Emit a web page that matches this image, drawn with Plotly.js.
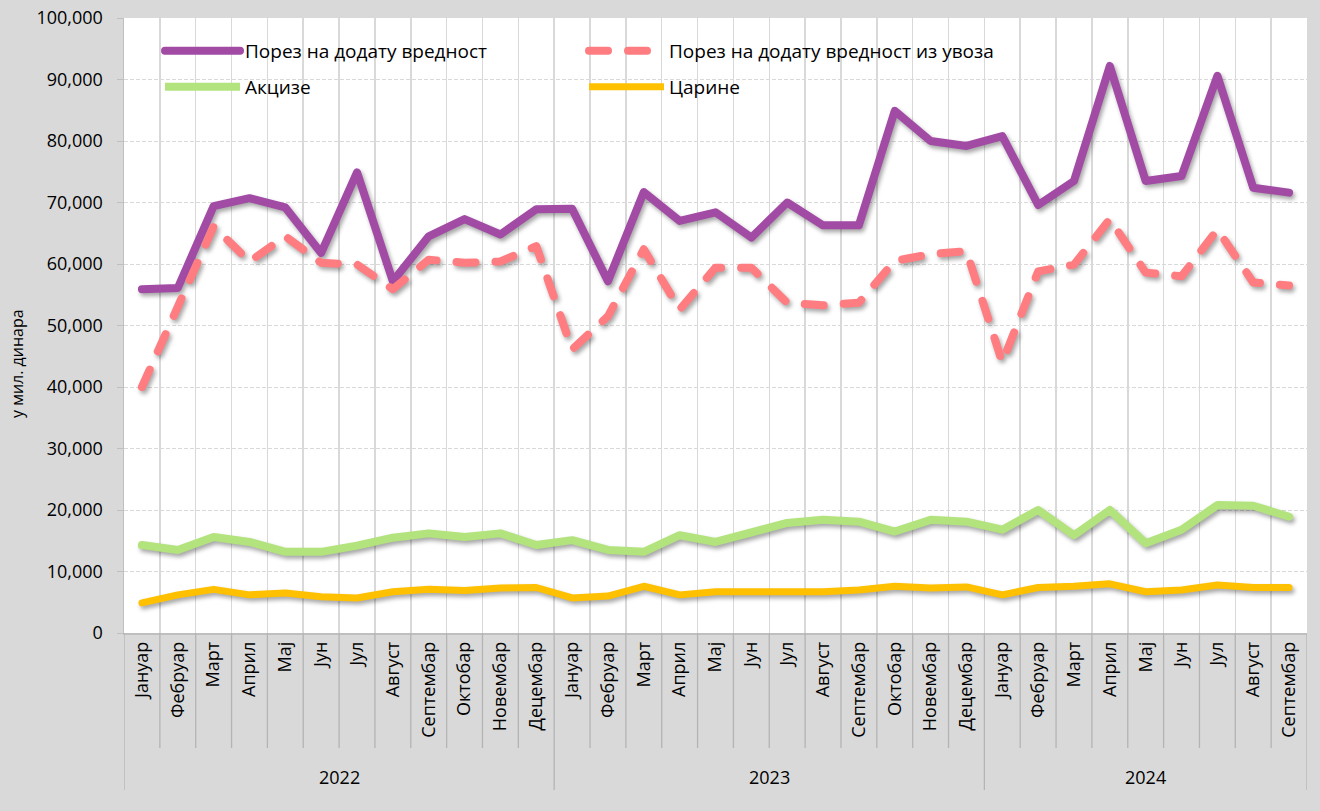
<!DOCTYPE html>
<html>
<head>
<meta charset="utf-8">
<script src="https://cdn.plot.ly/plotly-3.0.1.min.js"></script>
<style>
html, body { margin: 0; padding: 0; background: #d9d9d9; }
#chart { width: 1320px; height: 811px; }
.scatterlayer path.js-line { stroke-linecap: round; stroke-linejoin: round; filter: drop-shadow(2px 3px 2px rgba(0,0,0,0.35)); }
.legend path.js-line { stroke-linecap: round; }
</style>
</head>
<body>
<div id="chart"></div>
<script>
// ---- data ----
const months = [
  'Јануар','Фебруар','Март','Април','Мај','Јун','Јул','Август','Септембар','Октобар','Новембар','Децембар',
  'Јануар','Фебруар','Март','Април','Мај','Јун','Јул','Август','Септембар','Октобар','Новембар','Децембар',
  'Јануар','Фебруар','Март','Април','Мај','Јун','Јул','Август','Септембар'
];
const periodYears = [
  '2022','2022','2022','2022','2022','2022','2022','2022','2022','2022','2022','2022',
  '2023','2023','2023','2023','2023','2023','2023','2023','2023','2023','2023','2023',
  '2024','2024','2024','2024','2024','2024','2024','2024','2024'
];
const vat = [
  55900, 56100, 69400, 70700, 69200, 61800, 74900, 57200, 64500, 67300, 64800, 68900,
  69000, 57200, 71700, 67000, 68400, 64300, 70000, 66300, 66300, 84900, 80000, 79200,
  80800, 69600, 73500, 92200, 73500, 74300, 90600, 72400, 71600
];
const vatImport = [
  40000, 53000, 66100, 60400, 64500, 60200, 59900, 55900, 60700, 60200, 60400, 62900,
  46100, 51500, 62400, 52600, 59400, 59400, 53700, 53300, 53700, 60500, 61600, 62100,
  44000, 58800, 59900, 67300, 58600, 58000, 65600, 57000, 56500
];
const excise = [
  14300, 13500, 15600, 14800, 13200, 13200, 14200, 15500, 16200, 15600, 16200, 14300,
  15100, 13500, 13200, 15900, 14800, 16200, 17900, 18400, 18100, 16500, 18400, 18100,
  16800, 20000, 15900, 20000, 14600, 16800, 20800, 20700, 18900
];
const customs = [
  4900, 6200, 7100, 6200, 6500, 5900, 5700, 6700, 7100, 6900, 7300, 7400,
  5700, 6000, 7600, 6200, 6700, 6700, 6500, 6700, 7000, 7600, 7300, 7500,
  6200, 7400, 7600, 8000, 6700, 7000, 7800, 7400, 7400
];
const seriesNames = ['Порез на додату вредност', 'Порез на додату вредност из увоза', 'Акцизе', 'Царине'];
const yTitle = 'у мил. динара';

// ---- derived ----
const x = months.map((m, i) => i);
const n = months.length;
const boundaries = [];
for (let k = 1; k < n; k++) boundaries.push(k - 0.5);

const traces = [
  {x: x, y: vat, name: seriesNames[0], mode: 'lines', line: {color: '#a24ba5', width: 8}, legend: 'legend'},
  {x: x, y: vatImport, name: seriesNames[1], mode: 'lines', line: {color: '#ff7c80', width: 8, dash: '19px,20px'}, legend: 'legend'},
  {x: x, y: excise, name: seriesNames[2], mode: 'lines', line: {color: '#b2e37c', width: 8}, legend: 'legend2'},
  {x: x, y: customs, name: seriesNames[3], mode: 'lines', line: {color: '#ffc000', width: 7}, legend: 'legend2'}
];

// separators below the axis and year labels
const shapes = [];
const annotations = [];
const plotH = 811 - 18 - 178;
const monthSepY = -(748 - 633) / plotH;
const yearSepY = -(790 - 633) / plotH;
for (let k = 0; k <= n; k++) {
  const isYearEdge = (k === 0 || k === n || periodYears[k] !== periodYears[k - 1]);
  shapes.push({
    type: 'line', xref: 'x', yref: 'paper',
    x0: k - 0.5, x1: k - 0.5, y0: 0, y1: isYearEdge ? yearSepY : monthSepY,
    line: {color: '#b4b4b4', width: 1.3}
  });
}
const uniqYears = [...new Set(periodYears)];
uniqYears.forEach(yr => {
  const idx = x.filter(i => periodYears[i] === yr);
  const c = (idx[0] + idx[idx.length - 1]) / 2;
  annotations.push({
    text: yr, xref: 'x', yref: 'paper', x: c, y: -(777 - 633) / plotH,
    showarrow: false, xanchor: 'center', yanchor: 'middle',
    font: {size: 18, color: '#000'}
  });
});
annotations.push({
  text: yTitle, xref: 'paper', yref: 'paper',
  x: (17 - 124) / 1183, y: (633 - 364) / plotH,
  textangle: -90, showarrow: false, xanchor: 'center', yanchor: 'middle',
  font: {size: 16, color: '#000'}
});

const legendCommon = {
  orientation: 'h', xanchor: 'left', yanchor: 'middle',
  entrywidth: 334, entrywidthmode: 'pixels', itemwidth: 75,
  bgcolor: 'rgba(0,0,0,0)', font: {size: 19, color: '#000'}, traceorder: 'normal'
};

const layout = {
  width: 1320, height: 811,
  paper_bgcolor: '#d9d9d9', plot_bgcolor: '#ffffff',
  margin: {l: 124, r: 13, t: 18, b: 178},
  font: {family: '"Open Sans", "Noto Sans", sans-serif', size: 18, color: '#000'},
  showlegend: true,
  xaxis: {
    range: [-0.5, n - 0.5], tickmode: 'array', tickvals: x, ticktext: months,
    tickangle: -90, showgrid: false, zeroline: false,
    showline: true, linecolor: '#bfbfbf', linewidth: 1.5, ticks: '',
    tickfont: {size: 18, color: '#000'},
    minor: {tickmode: 'array', tickvals: boundaries, showgrid: true, gridcolor: '#d9d9d9', gridwidth: 1.5, ticks: ''}
  },
  yaxis: {
    range: [0, 100000], dtick: 10000, tickformat: ',d',
    showgrid: true, gridcolor: '#d9d9d9', griddash: '4px,2px', gridwidth: 1,
    showline: true, linecolor: '#bfbfbf', linewidth: 1.5,
    ticks: 'outside', ticklen: 6, tickcolor: '#bfbfbf', zeroline: false,
    tickfont: {size: 18, color: '#000'}, ticklabelstandoff: 10
  },
  legend: Object.assign({}, legendCommon, {x: (160 - 124) / 1183, y: (633 - 51) / plotH}),
  legend2: Object.assign({}, legendCommon, {x: (160 - 124) / 1183, y: (633 - 87) / plotH}),
  shapes: shapes,
  annotations: annotations
};

Plotly.newPlot('chart', traces, layout, {displayModeBar: false, staticPlot: true});
</script>
</body>
</html>
